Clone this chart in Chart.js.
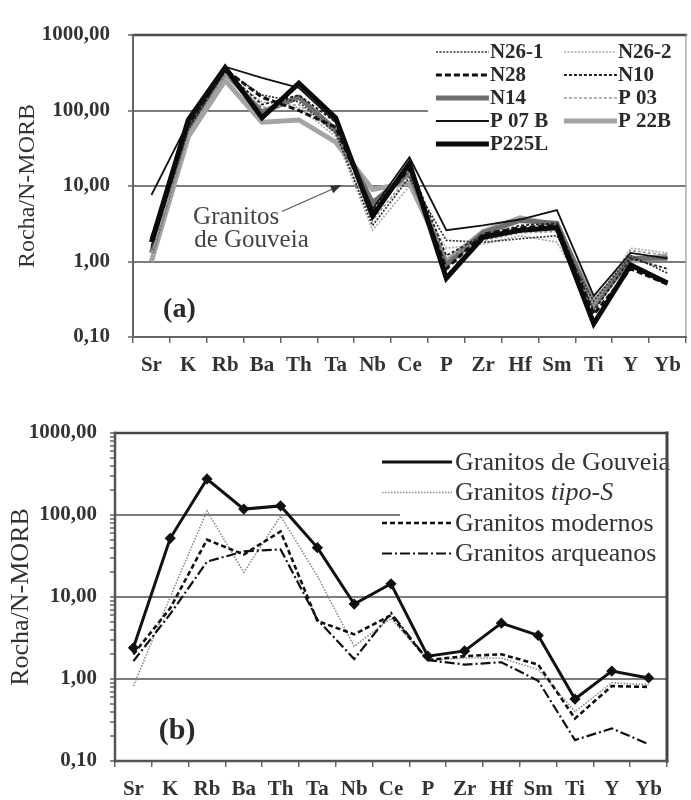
<!DOCTYPE html>
<html>
<head>
<meta charset="utf-8">
<title>Rocha/N-MORB</title>
<script src="https://cdn.jsdelivr.net/npm/chart.js"></script>
<style>
body { margin: 0; background: #fff; }
#chartA { position: absolute; left: 0; top: 0; }
#chartB { position: absolute; left: 0; top: 400px; }
</style>
</head>
<body>
<canvas id="chartA" width="691" height="395"></canvas>
<canvas id="chartB" width="691" height="400"></canvas>
<script>
// elementos (eixo x)
const elements = ['Sr', 'K', 'Rb', 'Ba', 'Th', 'Ta', 'Nb', 'Ce', 'P', 'Zr', 'Hf', 'Sm', 'Ti', 'Y', 'Yb'];
const yMajor = [0.1, 1, 10, 100, 1000];

// (a) amostras dos granitos de Gouveia
const n26_1 = [1.5, 55, 340, 160, 130, 50, 3.0, 13, 1.9, 1.8, 2.0, 2.2, 0.30, 1.2, 0.70];
const n26_2 = [1.2, 50, 300, 130, 110, 45, 2.6, 10, 1.5, 1.7, 2.2, 1.8, 0.26, 1.5, 1.3];
const n28   = [2.0, 65, 350, 150, 100, 60, 4.5, 17, 0.8, 2.3, 2.8, 3.0, 0.20, 0.8, 0.50];
const n10   = [1.6, 60, 330, 120, 160, 70, 5.0, 19, 1.2, 2.2, 3.0, 3.2, 0.22, 1.1, 0.80];
const n14   = [1.3, 60, 320, 95, 150, 55, 6.0, 15, 0.9, 2.4, 3.5, 3.2, 0.25, 1.1, 1.1];
const p03   = [1.3, 50, 300, 110, 120, 50, 3.5, 14, 1.1, 1.9, 2.4, 2.5, 0.28, 1.4, 1.2];
const p07b  = [7.6, 70, 380, 270, 200, 70, 5.0, 24, 2.6, 3.0, 3.6, 4.8, 0.35, 1.3, 1.1];
const p22b  = [1.0, 45, 250, 70, 75, 38, 9.0, 11, 1.0, 2.5, 3.8, 3.0, 0.30, 1.0, 1.2];
const p225l = [1.8, 75, 370, 80, 230, 80, 4.0, 20, 0.6, 2.1, 2.6, 2.8, 0.15, 0.9, 0.52];

// (b) médias comparativas
const gouveia   = [2.4, 52, 275, 118, 129, 40, 8.2, 14.5, 1.9, 2.2, 4.8, 3.4, 0.57, 1.25, 1.03];
const tipoS     = [0.82, 10, 112, 20, 97, 18, 2.5, 5.5, 1.7, 1.8, 1.8, 1.3, 0.40, 0.90, 0.85];
const modernos  = [2.0, 7.3, 50, 33, 63, 5.1, 3.5, 6.0, 1.7, 1.9, 2.0, 1.5, 0.33, 0.82, 0.80];
const arqueanos = [1.65, 6.2, 27, 36, 38, 5.3, 1.75, 6.4, 1.7, 1.5, 1.6, 0.95, 0.18, 0.25, 0.16];

const serif = '"Liberation Serif", "DejaVu Serif", serif';

function fmt(v) { return v.toFixed(2).replace('.', ','); }

function minorTicks() {
  const out = [];
  yMajor.forEach(d => {
    if (d === 1000) { out.push(d); return; }
    for (let k = 1; k <= 9; k++) out.push(Number((d * k).toPrecision(3)));
  });
  return out;
}

function yAxis(o) {
  return {
    type: 'logarithmic', min: 0.1, max: 1000,
    afterBuildTicks: s => { s.ticks = (o.minor ? minorTicks() : yMajor).map(v => ({ value: v })); },
    afterFit: s => { s.width = o.width; },
    border: { display: false },
    grid: {
      color: c => (c.tick && yMajor.includes(c.tick.value) && c.tick.value > 0.1 && c.tick.value < 1000) ? '#7c7c7c' : 'rgba(0,0,0,0)',
      lineWidth: 2,
      tickLength: 5,
      tickColor: c => (c.tick && (o.minor || yMajor.includes(c.tick.value))) ? '#666' : 'rgba(0,0,0,0)',
      tickWidth: 1.5
    },
    ticks: {
      autoSkip: false,
      padding: o.pad,
      color: '#333',
      font: { family: serif, size: 21, weight: 'bold' },
      callback: v => yMajor.includes(v) ? fmt(v) : ''
    },
    title: {
      display: true, text: 'Rocha/N-MORB', color: '#333',
      font: { family: serif, size: o.titleSize }, padding: { top: o.titlePad, bottom: 0 }
    }
  };
}

function xAxis(h) {
  return {
    type: 'category', labels: elements, offset: true,
    afterFit: s => { s.height = h; },
    border: { display: false },
    grid: { offset: true, drawOnChartArea: false, tickLength: 6, color: '#666', lineWidth: 1.5 },
    ticks: { autoSkip: false, maxRotation: 0, padding: 10, color: '#333', font: { family: serif, size: 21, weight: 'bold' } }
  };
}

function frame(ctx, ca, st) {
  ctx.save();
  ctx.lineCap = 'square';
  const seg = (x1, y1, x2, y2, c, w) => {
    ctx.strokeStyle = c; ctx.lineWidth = w;
    ctx.beginPath(); ctx.moveTo(x1, y1); ctx.lineTo(x2, y2); ctx.stroke();
  };
  seg(ca.left, ca.top, ca.right, ca.top, st.top[0], st.top[1]);
  seg(ca.right, ca.top, ca.right, ca.bottom, st.right[0], st.right[1]);
  seg(ca.left, ca.bottom, ca.right, ca.bottom, st.bottom[0], st.bottom[1]);
  seg(ca.left, ca.top, ca.left, ca.bottom, st.left[0], st.left[1]);
  ctx.restore();
}

function sample(ctx, ds, x1, x2, y) {
  ctx.save();
  ctx.strokeStyle = ds.borderColor;
  ctx.lineWidth = ds.borderWidth;
  ctx.setLineDash(ds.borderDash || []);
  ctx.beginPath(); ctx.moveTo(x1, y); ctx.lineTo(x2, y); ctx.stroke();
  ctx.restore();
}

// ---------- (a) ----------
const dsA = [
  { label: 'N26-1', data: n26_1, borderColor: '#333', borderWidth: 1.7, borderDash: [2, 1.5], order: 4 },
  { label: 'N26-2', data: n26_2, borderColor: '#aaa', borderWidth: 1.7, borderDash: [2, 1.5], order: 6 },
  { label: 'N28', data: n28, borderColor: '#111', borderWidth: 3, borderDash: [6, 3], order: 3 },
  { label: 'N10', data: n10, borderColor: '#222', borderWidth: 1.8, borderDash: [3, 2], order: 2 },
  { label: 'N14', data: n14, borderColor: '#6e6e6e', borderWidth: 5, order: 7 },
  { label: 'P 03', data: p03, borderColor: '#999', borderWidth: 1.7, borderDash: [3, 2], order: 5 },
  { label: 'P 07 B', data: p07b, borderColor: '#111', borderWidth: 1.8, order: 0 },
  { label: 'P 22B', data: p22b, borderColor: '#a4a4a4', borderWidth: 5, order: 8 },
  { label: 'P225L', data: p225l, borderColor: '#0a0a0a', borderWidth: 5, order: 1 }
];

const extrasA = {
  id: 'extrasA',
  afterDatasetsDraw(chart) {
    const ctx = chart.ctx, ca = chart.chartArea, sx = chart.scales.x, sy = chart.scales.y;
    // legenda
    ctx.save();
    ctx.fillStyle = '#fff';
    ctx.fillRect(ca.right - 258, ca.top + 3, 258, 122);
    ctx.font = 'bold 21px ' + serif;
    ctx.fillStyle = '#2a2a2a';
    ctx.textBaseline = 'middle';
    dsA.forEach((ds, i) => {
      const col = i % 2, row = Math.floor(i / 2);
      const x0 = col === 0 ? ca.right - 250 : ca.right - 122;
      const y = ca.top + 17 + row * 23;
      sample(ctx, ds, x0, x0 + 53, y);
      ctx.fillText(ds.label, x0 + 54, y + 1);
    });
    // anotação
    ctx.font = '25px ' + serif;
    ctx.fillStyle = '#444';
    ctx.fillText('Granitos', sx.getPixelForValue(1.13), sy.getPixelForValue(3.86));
    ctx.fillText('de Gouveia', sx.getPixelForValue(1.16), sy.getPixelForValue(1.9));
    const ax1 = sx.getPixelForValue(3.54), ay1 = sy.getPixelForValue(4.6);
    const ax2 = sx.getPixelForValue(5.16), ay2 = sy.getPixelForValue(10.3);
    const ang = Math.atan2(ay2 - ay1, ax2 - ax1);
    ctx.strokeStyle = '#555'; ctx.lineWidth = 1.2;
    ctx.beginPath(); ctx.moveTo(ax1, ay1); ctx.lineTo(ax2 - 8 * Math.cos(ang), ay2 - 8 * Math.sin(ang)); ctx.stroke();
    ctx.fillStyle = '#333';
    ctx.beginPath();
    ctx.moveTo(ax2, ay2);
    ctx.lineTo(ax2 - 11 * Math.cos(ang) + 4 * Math.sin(ang), ay2 - 11 * Math.sin(ang) - 4 * Math.cos(ang));
    ctx.lineTo(ax2 - 11 * Math.cos(ang) - 4 * Math.sin(ang), ay2 - 11 * Math.sin(ang) + 4 * Math.cos(ang));
    ctx.closePath(); ctx.fill();
    // rótulo do painel
    ctx.font = 'bold 28px ' + serif;
    ctx.fillStyle = '#2a2a2a';
    ctx.textAlign = 'center';
    ctx.fillText('(a)', sx.getPixelForValue(0.76), sy.getPixelForValue(0.23));
    ctx.restore();
  },
  afterDraw(chart) {
    frame(chart.ctx, chart.chartArea, {
      top: ['#4a4a4a', 2.5], right: ['#999', 1.2], bottom: ['#666', 2], left: ['#666', 2]
    });
  }
};

new Chart(document.getElementById('chartA'), {
  type: 'line',
  data: { labels: elements, datasets: dsA.map(d => Object.assign({ tension: 0, pointRadius: 0, fill: false }, d)) },
  options: {
    responsive: false, animation: false, devicePixelRatio: 1,
    layout: { padding: { left: 8, right: 3, top: 35, bottom: 13 } },
    plugins: { legend: { display: false }, tooltip: { enabled: false } },
    scales: {
      x: xAxis(45),
      y: yAxis({ width: 125, pad: 18, titleSize: 24, titlePad: 5, minor: false })
    }
  },
  plugins: [extrasA]
});

// ---------- (b) ----------
const dsB = [
  { label: 'Granitos de Gouveia', data: gouveia, borderColor: '#111', borderWidth: 3, pointRadius: 3.5, pointStyle: 'rectRot', pointBackgroundColor: '#111', pointBorderColor: '#111', order: 0 },
  { label: 'Granitos tipo-S', data: tipoS, borderColor: '#8a8a8a', borderWidth: 1.6, borderDash: [1.5, 1.5], order: 3 },
  { label: 'Granitos modernos', data: modernos, borderColor: '#111', borderWidth: 2.6, borderDash: [5, 3], order: 1 },
  { label: 'Granitos arqueanos', data: arqueanos, borderColor: '#111', borderWidth: 2.2, borderDash: [10, 3, 2, 3], order: 2 }
];

const extrasB = {
  id: 'extrasB',
  afterDatasetsDraw(chart) {
    const ctx = chart.ctx, ca = chart.chartArea, sx = chart.scales.x, sy = chart.scales.y;
    ctx.save();
    ctx.fillStyle = '#fff';
    ctx.fillRect(ca.right - 267, ca.top + 5, 267, 132);
    ctx.textBaseline = 'middle';
    dsB.forEach((ds, i) => {
      const x0 = ca.right - 285;
      const y = ca.top + 29 + i * 30.5;
      sample(ctx, ds, x0, x0 + 70, y);
      ctx.fillStyle = '#333';
      ctx.font = '26px ' + serif;
      if (ds.label === 'Granitos tipo-S') {
        ctx.fillText('Granitos ', x0 + 73, y + 1);
        const w = ctx.measureText('Granitos ').width;
        ctx.font = 'italic 26px ' + serif;
        ctx.fillText('tipo-S', x0 + 73 + w, y + 1);
      } else {
        ctx.fillText(ds.label, x0 + 73, y + 1);
      }
    });
    ctx.font = 'bold 30px ' + serif;
    ctx.fillStyle = '#2a2a2a';
    ctx.textAlign = 'center';
    ctx.fillText('(b)', sx.getPixelForValue(1.19), sy.getPixelForValue(0.232));
    ctx.restore();
  },
  afterDraw(chart) {
    frame(chart.ctx, chart.chartArea, {
      top: ['#444', 2.5], right: ['#444', 3], bottom: ['#555', 2.5], left: ['#555', 2.5]
    });
  }
};

new Chart(document.getElementById('chartB'), {
  type: 'line',
  data: { labels: elements, datasets: dsB.map(d => Object.assign({ tension: 0, pointRadius: 0, fill: false }, d)) },
  options: {
    responsive: false, animation: false, devicePixelRatio: 1,
    layout: { padding: { left: 3, right: 24, top: 33, bottom: 0 } },
    plugins: { legend: { display: false }, tooltip: { enabled: false } },
    scales: {
      x: xAxis(39),
      y: yAxis({ width: 112, pad: 13, titleSize: 26, titlePad: 3, minor: true })
    }
  },
  plugins: [extrasB]
});
</script>
</body>
</html>
